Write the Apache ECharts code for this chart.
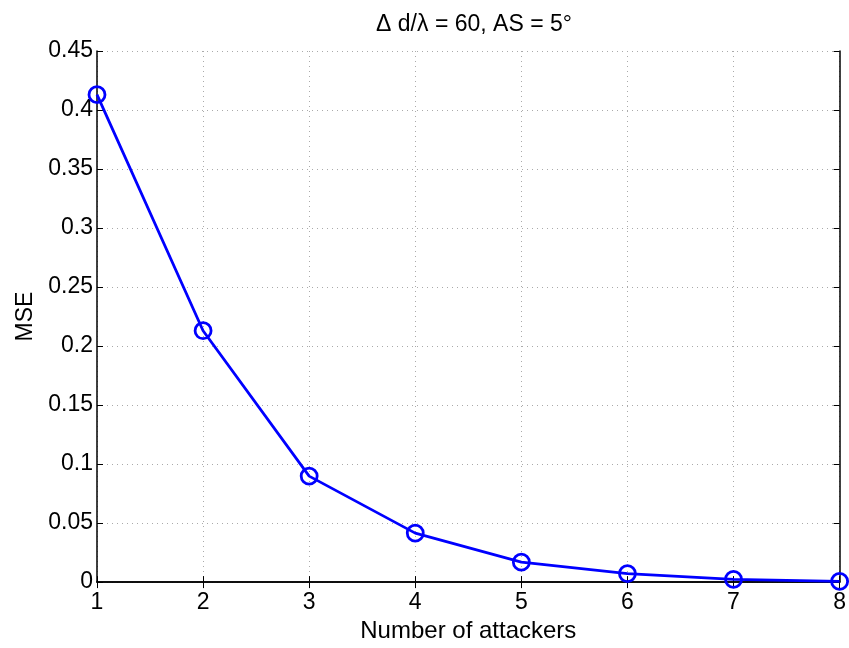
<!DOCTYPE html>
<html>
<head>
<meta charset="utf-8">
<script src="https://cdn.jsdelivr.net/npm/echarts@6/dist/echarts.min.js"></script>
<style>
    html, body { margin: 0; padding: 0; background: #fff; }
    #chart { width: 849px; height: 648px; }
</style>
</head>
<body>
<div id="chart"></div>
<script>
    // data
    let attackers = [1, 2, 3, 4, 5, 6, 7, 8];
    let mse = [0.413, 0.213, 0.0898, 0.0415, 0.0169, 0.0072, 0.0023, 0.0006];
    let titleText = 'Δ d/λ = 60, AS = 5°';

    let font = 'Liberation Sans, Arial, Helvetica, sans-serif';
    let black = '#000';

    let boxAxis = {
        axisLine: {show: true, lineStyle: {color: black, width: 1.5}},
        axisTick: {show: true, inside: true, length: 6, lineStyle: {color: black, width: 1}},
        axisLabel: {show: false},
        splitLine: {show: false}
    };

    let myChart = echarts.init(document.getElementById('chart'), null, {renderer: 'canvas'});
    let option = {
        animation: false,
        backgroundColor: '#fff',
        title: {
            text: titleText,
            left: 469,
            top: 8,
            textAlign: 'center',
            textStyle: {fontFamily: font, fontSize: 23, fontWeight: 'normal', color: black}
        },
        grid: {left: 97, right: 8, top: 51, bottom: 56},
        xAxis: [{
            type: 'value',
            min: 1, max: 8, interval: 1,
            name: 'Number of attackers',
            nameLocation: 'middle',
            nameGap: 31,
            nameTextStyle: {fontFamily: font, fontSize: 24, color: black},
            axisLine: {lineStyle: {color: black, width: 1.5}},
            axisTick: {inside: true, length: 6, lineStyle: {color: black}},
            axisLabel: {fontFamily: font, fontSize: 23, color: black, margin: 9},
            splitLine: {show: true, lineStyle: {color: '#aaa', type: [1, 4], width: 1}}
        }, Object.assign({
            type: 'value', position: 'top', min: 1, max: 8, interval: 1
        }, boxAxis)],
        yAxis: [{
            type: 'value',
            min: 0, max: 0.45, interval: 0.05,
            name: 'MSE',
            nameLocation: 'middle',
            nameGap: 60,
            nameTextStyle: {fontFamily: font, fontSize: 23, color: black},
            axisLine: {show: true, lineStyle: {color: black, width: 1.5}},
            axisTick: {show: true, inside: true, length: 6, lineStyle: {color: black}},
            axisLabel: {
                fontFamily: font, fontSize: 23, color: black, margin: 4,
                formatter: v => String(+v.toFixed(2))
            },
            splitLine: {show: true, lineStyle: {color: '#aaa', type: [1, 4], width: 1}}
        }, Object.assign({
            type: 'value', position: 'right', min: 0, max: 0.45, interval: 0.05
        }, boxAxis)],
        series: [{
            type: 'line',
            data: attackers.map((a, i) => [a, mse[i]]),
            clip: false,
            symbol: 'circle',
            symbolSize: 16,
            lineStyle: {color: '#0000ff', width: 2.8},
            itemStyle: {color: 'rgba(0,0,0,0)', borderColor: '#0000ff', borderWidth: 2.8}
        }]
    };
    myChart.setOption(option);
</script>
</body>
</html>
